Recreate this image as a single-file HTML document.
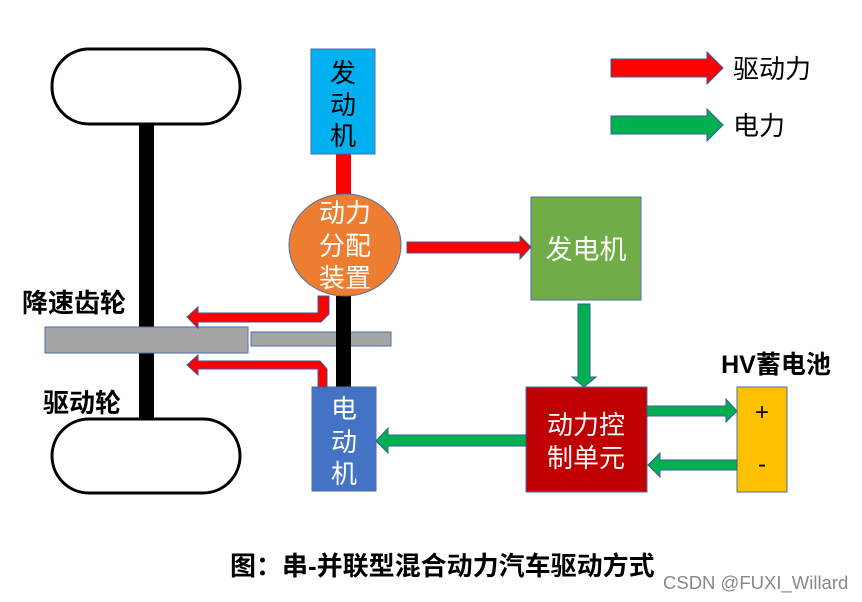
<!DOCTYPE html>
<html><head><meta charset="utf-8"><style>
html,body{margin:0;padding:0;background:#fff;}
svg{display:block;}
text{font-family:"Liberation Sans","Noto Sans CJK SC",sans-serif;}
</style></head><body>
<svg width="862" height="602" viewBox="0 0 862 602" xmlns="http://www.w3.org/2000/svg">
<rect x="52" y="49" width="188" height="75" rx="37" ry="37" fill="#fff" stroke="#000" stroke-width="3"/>
<rect x="52" y="419" width="188" height="74" rx="37" ry="37" fill="#fff" stroke="#000" stroke-width="3"/>
<rect x="139" y="124" width="15" height="295" fill="#000"/>
<rect x="45" y="327" width="203" height="26" fill="#a5a5a5" stroke="#4a6ea8" stroke-width="1"/>
<rect x="251" y="332" width="140" height="14" fill="#a5a5a5" stroke="#4a6ea8" stroke-width="1"/>
<rect x="336" y="154" width="15" height="42" fill="#ff0000"/>
<rect x="336" y="296" width="15" height="91" fill="#000"/>
<rect x="311" y="49" width="64" height="105" fill="#00b0f0" stroke="#4a6ea8"/>
<text x="343" y="82" font-size="26" fill="#000" text-anchor="middle">发</text>
<text x="343" y="114" font-size="26" fill="#000" text-anchor="middle">动</text>
<text x="343" y="145" font-size="26" fill="#000" text-anchor="middle">机</text>
<ellipse cx="345" cy="245" rx="56" ry="51" fill="#ed7d31" stroke="#4a6ea8"/>
<text x="345" y="222" font-size="26" fill="#fff" text-anchor="middle">动力</text>
<text x="345" y="255" font-size="26" fill="#fff" text-anchor="middle">分配</text>
<text x="345" y="287" font-size="26" fill="#fff" text-anchor="middle">装置</text>
<rect x="312" y="387" width="64" height="104" fill="#4472c4" stroke="#4a6ea8"/>
<text x="344" y="418" font-size="26" fill="#fff" text-anchor="middle">电</text>
<text x="344" y="451" font-size="26" fill="#fff" text-anchor="middle">动</text>
<text x="344" y="483" font-size="26" fill="#fff" text-anchor="middle">机</text>
<rect x="531" y="197" width="110" height="103" fill="#70ad47" stroke="#4a6ea8"/>
<text x="586" y="259" font-size="27" fill="#fff" text-anchor="middle">发电机</text>
<rect x="526" y="387" width="121" height="105" fill="#c00000" stroke="#4a6ea8"/>
<text x="586" y="434" font-size="26" fill="#fff" text-anchor="middle">动力控</text>
<text x="586" y="467" font-size="26" fill="#fff" text-anchor="middle">制单元</text>
<rect x="737" y="387" width="50" height="105" fill="#ffc000" stroke="#4a6ea8"/>
<text x="762" y="420" font-size="24" fill="#000" text-anchor="middle">+</text>
<text x="762" y="472" font-size="24" fill="#000" text-anchor="middle">-</text>
<text x="776" y="373" font-size="25" font-weight="bold" fill="#000" text-anchor="middle">HV蓄电池</text>
<g stroke="#3a5a9a" stroke-width="1">
<polygon points="407,242 520,242 520,236 531,247 520,259 520,253 407,253" fill="#ff0000"/>
<polygon points="578,304 590,304 590,377 596,377 584,387 572,377 578,377" fill="#00b050"/>
<polygon points="526,435 388,435 388,428 376,441 388,453 388,446 526,446" fill="#00b050"/>
<polygon points="647,406 726,406 726,399 737,411 726,422 726,416 647,416" fill="#00b050"/>
<polygon points="737,460 660,460 660,453 648,465 660,477 660,470 737,470" fill="#00b050"/>
<polygon points="318,296 329,296 329,314 321,322 198,322 198,328 187,317 198,307 198,313 318,313" fill="#ff0000"/>
<polygon points="318,387 327,387 327,369 320,361 198,361 198,355 187,365 198,375 198,369 318,369" fill="#ff0000"/>
<polygon points="611,59 707,59 707,52 723,68 707,84 707,77 611,77" fill="#ff0000"/>
<polygon points="611,116 707,116 707,109 723,125 707,141 707,134 611,134" fill="#00b050"/>
</g>
<text x="733" y="78" font-size="26" fill="#000">驱动力</text>
<text x="733" y="135" font-size="26" fill="#000">电力</text>
<text x="22" y="312" font-size="26" font-weight="bold" fill="#000">降速齿轮</text>
<text x="43" y="412" font-size="26" font-weight="bold" fill="#000">驱动轮</text>
<text x="230" y="575" font-size="26" font-weight="bold" fill="#000">图：串-并联型混合动力汽车驱动方式</text>
<text x="663" y="589" font-size="18.5" fill="#888">CSDN @FUXI_Willard</text>
</svg>
</body></html>
